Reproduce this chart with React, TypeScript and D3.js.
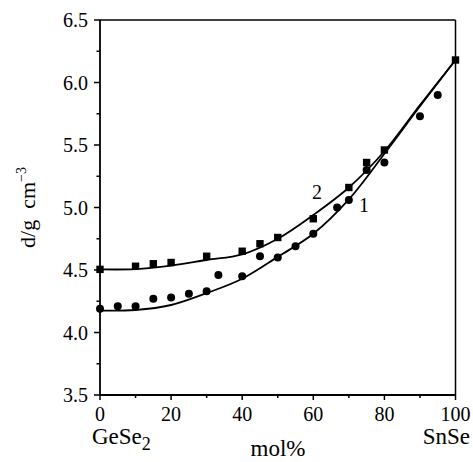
import React from "react";
import * as d3 from "d3";

// Composition (mol% SnSe) and density d (g cm^-3)
const sqX = [0, 10, 15, 20, 30, 40, 45, 50, 60, 70, 75, 80, 100];
const sqY = [4.505, 4.53, 4.55, 4.56, 4.61, 4.65, 4.71, 4.76, 4.91, 5.16, 5.36, 5.46, 6.18];

const ciX = [0, 5, 10, 15, 20, 25, 30, 33.3, 40, 45, 50, 55, 60, 66.7, 70, 75, 80, 90, 95];
const ciY = [4.19, 4.21, 4.21, 4.27, 4.28, 4.31, 4.33, 4.46, 4.45, 4.61, 4.6, 4.69, 4.79, 5.0, 5.06, 5.3, 5.36, 5.73, 5.9];

// fitted curves
const fitX = [0, 10, 20, 30, 40, 50, 60, 70, 80, 90, 100];
const fit2Y = [4.505, 4.507, 4.535, 4.58, 4.625, 4.75, 4.94, 5.16, 5.45, 5.82, 6.18];
const fit1Y = [4.175, 4.18, 4.22, 4.315, 4.43, 4.605, 4.79, 5.065, 5.43, 5.81, 6.18];

const yTicks = [3.5, 4.0, 4.5, 5.0, 5.5, 6.0, 6.5];
const xTicks = [0, 20, 40, 60, 80, 100];

const W = 473;
const H = 462;
const L = 100, R = 455.5, T = 20, B = 395;
const FONT = "'Liberation Serif', 'DejaVu Serif', serif";

export default function App() {
  const x = d3.scaleLinear().domain([0, 100]).range([L, R]);
  const y = d3.scaleLinear().domain([3.5, 6.5]).range([B, T]);

  const line = d3
    .line<[number, number]>()
    .x((d) => x(d[0]))
    .y((d) => y(d[1]))
    .curve(d3.curveCatmullRom.alpha(0.5));

  const fit1 = line(fitX.map((v, i) => [v, fit1Y[i]] as [number, number])) || "";
  const fit2 = line(fitX.map((v, i) => [v, fit2Y[i]] as [number, number])) || "";

  const yMinor = d3.range(3.75, 6.5, 0.5);
  const xMinor = d3.range(10, 100, 20);

  return (
    <svg
      width={W}
      height={H}
      style={{ position: "absolute", left: 0, top: 0, background: "#fff" }}
      fontFamily={FONT}
    >
      <rect x={0} y={0} width={W} height={H} fill="#fff" />
      {/* frame */}
      <line x1={L} x2={R} y1={T} y2={T} stroke="#000" strokeWidth={1.5} />
      <line x1={R} x2={R} y1={T} y2={B} stroke="#000" strokeWidth={1.5} />
      <line x1={L} x2={L} y1={T} y2={B} stroke="#000" strokeWidth={1.8} />
      <line x1={L} x2={R} y1={B} y2={B} stroke="#000" strokeWidth={1.8} />

      {/* y ticks */}
      {yTicks.map((t) => (
        <g key={"y" + t}>
          <line x1={L - 6} x2={L} y1={y(t)} y2={y(t)} stroke="#000" strokeWidth={1.5} />
          <text x={88} y={y(t) + 7} textAnchor="end" fontSize={20}>
            {d3.format(".1f")(t)}
          </text>
        </g>
      ))}
      {yMinor.map((t) => (
        <line key={"ym" + t} x1={L - 3.5} x2={L} y1={y(t)} y2={y(t)} stroke="#000" strokeWidth={1.5} />
      ))}

      {/* x ticks */}
      {xTicks.map((t) => (
        <g key={"x" + t}>
          <line x1={x(t)} x2={x(t)} y1={B} y2={B + 5} stroke="#000" strokeWidth={1.5} />
          <text x={x(t)} y={421} textAnchor="middle" fontSize={20}>
            {t}
          </text>
        </g>
      ))}
      {xMinor.map((t) => (
        <line key={"xm" + t} x1={x(t)} x2={x(t)} y1={B} y2={B + 3} stroke="#000" strokeWidth={1.5} />
      ))}

      {/* curves */}
      <path d={fit2} fill="none" stroke="#000" strokeWidth={1.8} />
      <path d={fit1} fill="none" stroke="#000" strokeWidth={1.8} />

      {/* points */}
      {sqX.map((v, i) => (
        <rect key={"s" + i} x={x(v) - 3.7} y={y(sqY[i]) - 3.7} width={7.4} height={7.4} fill="#000" />
      ))}
      {ciX.map((v, i) => (
        <circle key={"c" + i} cx={x(v)} cy={y(ciY[i])} r={4} fill="#000" />
      ))}

      {/* curve labels */}
      <text x={317} y={199} textAnchor="middle" fontSize={20}>2</text>
      <text x={364} y={212} textAnchor="middle" fontSize={20}>1</text>

      {/* axis titles */}
      <text x={92} y={444} fontSize={23}>
        GeSe<tspan fontSize={18} dy={6}>2</tspan>
      </text>
      <text x={470} y={444} textAnchor="end" fontSize={23}>SnSe</text>
      <text x={278} y={456} textAnchor="middle" fontSize={23}>mol%</text>

      <text
        transform={`translate(35, ${(T + B) / 2}) rotate(-90)`}
        textAnchor="middle"
        fontSize={22}
      >
        d/g{"\u00A0\u00A0"}cm<tspan fontSize={14} dy={-9}>−3</tspan>
      </text>
    </svg>
  );
}
